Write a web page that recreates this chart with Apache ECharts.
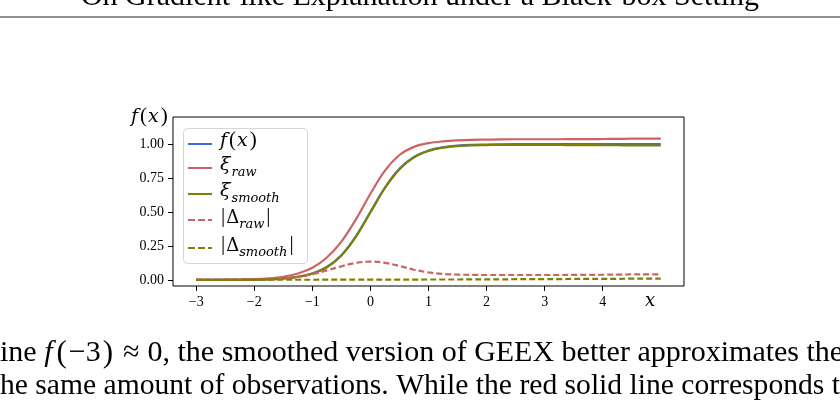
<!DOCTYPE html>
<html>
<head>
<meta charset="utf-8">
<script src="https://cdn.jsdelivr.net/npm/echarts@6/dist/echarts.min.js"></script>
<style>
html, body { margin: 0; padding: 0; background: #fff; }
#main { width: 840px; height: 401px; }
</style>
</head>
<body>
<div id="main"></div>
<script>
'use strict';

// x sample points
var xs = [-3, -2.75, -2.5, -2.25, -2, -1.75, -1.5, -1.25, -1, -0.75, -0.5, -0.25, 0,
  0.25, 0.5, 0.75, 1, 1.25, 1.5, 1.75, 2, 2.25, 2.5, 2.75, 3, 3.25, 3.5, 3.75, 4,
  4.25, 4.5, 4.75, 5];

var fx = [0.000, 0.000, 0.001, 0.001, 0.002, 0.005, 0.011, 0.023, 0.047, 0.095, 0.182, 0.321, 0.500,
  0.679, 0.818, 0.905, 0.953, 0.977, 0.989, 0.995, 0.997, 0.999, 1.000, 1.000, 1.000, 1.000, 1.000, 1.000, 1.000,
  1.000, 1.000, 1.000, 1.000];

var xiRaw = [0.000, 0.000, 0.002, 0.003, 0.005, 0.011, 0.023, 0.047, 0.089, 0.165, 0.282, 0.446, 0.635,
  0.805, 0.920, 0.980, 1.008, 1.021, 1.028, 1.032, 1.033, 1.035, 1.036, 1.036, 1.036, 1.036, 1.037, 1.037, 1.038,
  1.039, 1.040, 1.041, 1.041];

var xiSmooth = [0.000, 0.000, 0.000, 0.000, 0.001, 0.004, 0.010, 0.022, 0.046, 0.093, 0.180, 0.319, 0.498,
  0.677, 0.816, 0.903, 0.950, 0.974, 0.986, 0.991, 0.993, 0.995, 0.995, 0.995, 0.994, 0.994, 0.993, 0.993, 0.992,
  0.992, 0.991, 0.991, 0.990];

var dRaw = [0.000, 0.000, 0.001, 0.002, 0.003, 0.006, 0.012, 0.024, 0.042, 0.070, 0.100, 0.125, 0.135,
  0.126, 0.102, 0.075, 0.055, 0.044, 0.039, 0.037, 0.036, 0.036, 0.036, 0.036, 0.036, 0.036, 0.037, 0.037, 0.038,
  0.039, 0.040, 0.041, 0.041];

var dSmooth = [0.001, 0.001, 0.001, 0.001, 0.001, 0.001, 0.001, 0.001, 0.001, 0.002, 0.002, 0.002, 0.002,
  0.002, 0.002, 0.002, 0.003, 0.003, 0.003, 0.004, 0.004, 0.004, 0.005, 0.005, 0.006, 0.006, 0.007, 0.007, 0.008,
  0.008, 0.009, 0.009, 0.010];

var xTicks = [-3, -2, -1, 0, 1, 2, 3, 4];
var yTicks = [0, 0.25, 0.5, 0.75, 1];

var BLUE = '#4169e1', RED = '#cd6363', OLIVE = '#808000';
var SERIF = 'Liberation Serif';
var MATH = 'DejaVu Serif';

var SOLID_ICON = 'path://M0,0h24v2h-24z';
var DASH_ICON = 'path://M0,0h7v2h-7zM10,0h7v2h-7zM20,0h4v2h-4z';

function pairs(ys) {
  return xs.map(function (x, i) { return [x, ys[i]]; });
}

function fmtTick(v) {
  return v < 0 ? '\u2212' + Math.abs(v) : String(v);
}

var mathRich = {
  i: { fontFamily: MATH, fontStyle: 'italic', fontSize: 19, lineHeight: 22, color: '#000', verticalAlign: 'bottom', padding: [0, 1, 4, 0] },
  n: { fontFamily: SERIF, fontSize: 21, lineHeight: 22, color: '#000', verticalAlign: 'bottom', padding: [0, 1, 4, 1] },
  d: { fontFamily: MATH, fontSize: 18, lineHeight: 22, color: '#000', verticalAlign: 'bottom', padding: [0, 0, 4, 0] },
  s: { fontFamily: MATH, fontStyle: 'italic', fontSize: 13, lineHeight: 15, color: '#000', verticalAlign: 'bottom', padding: [0, 1, 0, 0] }
};

var legendLabels = {
  'f': '{i|f}{n|(}{i|x}{n|)}',
  'xiRaw': '{i|\u03be}{s|raw}',
  'xiSmooth': '{i|\u03be}{s|smooth}',
  'dRaw': '{n||}{d|\u0394}{s|raw}{n||}',
  'dSmooth': '{n||}{d|\u0394}{s|smooth}{n||}'
};
var legendCenters = [143, 169, 195, 219, 247];

var seriesDefs = [
  { name: 'f', data: fx, color: BLUE, type: 'solid', icon: SOLID_ICON },
  { name: 'xiRaw', data: xiRaw, color: RED, type: 'solid', icon: SOLID_ICON },
  { name: 'xiSmooth', data: xiSmooth, color: OLIVE, type: 'solid', icon: SOLID_ICON },
  { name: 'dRaw', data: dRaw, color: RED, type: [6, 3], icon: DASH_ICON },
  { name: 'dSmooth', data: dSmooth, color: OLIVE, type: [6, 3], icon: DASH_ICON }
];

var series = seriesDefs.map(function (d) {
  return {
    name: d.name,
    type: 'line',
    data: pairs(d.data),
    smooth: 0.35,
    showSymbol: false,
    symbol: 'none',
    color: d.color,
    lineStyle: { color: d.color, width: 2.2, type: d.type },
    emphasis: { disabled: true },
    animation: false
  };
});

var legends = seriesDefs.map(function (d, k) {
  return {
    data: [{ name: d.name, icon: d.icon }],
    left: 188,
    top: legendCenters[k] - 13,
    padding: 0,
    itemWidth: 24,
    itemHeight: 2,
    z: 5,
    selectedMode: false,
    itemStyle: { color: d.color, borderWidth: 0 },
    formatter: function (name) { return legendLabels[name]; },
    textStyle: { rich: mathRich, padding: [0, 0, 0, 3] }
  };
});

var bodyRich = {
  r: { fontFamily: SERIF, fontSize: 30, fill: '#000' },
  it: { fontFamily: SERIF, fontStyle: 'italic', fontSize: 30, fill: '#000', padding: [0, 2, 0, 0] },
  p: { fontFamily: SERIF, fontSize: 31, fill: '#000', padding: [0, 2, 0, 2] },
  op: { fontFamily: SERIF, fontSize: 30, fill: '#000', padding: [0, 8, 0, 8] }
};

var chart = echarts.init(document.getElementById('main'));
chart.setOption({
  backgroundColor: '#fff',
  animation: false,
  grid: {
    left: 173, right: 156, top: 117, bottom: 115,
    show: true, borderColor: '#000', borderWidth: 1, backgroundColor: 'transparent'
  },
  legend: legends,
  xAxis: {
    type: 'value', min: -3.4, max: 5.4,
    axisLine: { show: false, onZero: false },
    splitLine: { show: false },
    axisTick: { show: true, inside: false, length: 5, lineStyle: { color: '#000' }, customValues: xTicks },
    axisLabel: { fontFamily: SERIF, fontSize: 14, color: '#000', margin: 9, customValues: xTicks, formatter: fmtTick }
  },
  yAxis: {
    type: 'value', min: -0.045, max: 1.2,
    axisLine: { show: false, onZero: false },
    splitLine: { show: false },
    axisTick: { show: true, inside: false, length: 5, lineStyle: { color: '#000' }, customValues: yTicks },
    axisLabel: { fontFamily: SERIF, fontSize: 14, color: '#000', margin: 9, customValues: yTicks,
      formatter: function (v) { return v.toFixed(2); } }
  },
  graphic: [
    // page header + rule
    { type: 'text', left: 'center', top: -18, silent: true,
      style: { text: 'On Gradient-like Explanation under a Black-box Setting', fontFamily: SERIF, fontSize: 30, fill: '#000' } },
    { type: 'line', silent: true, shape: { x1: 0, y1: 17, x2: 840, y2: 17 }, style: { stroke: '#222', lineWidth: 1 } },
    // legend frame
    { type: 'rect', silent: true, z: 1, shape: { x: 183.5, y: 128.5, width: 124, height: 135, r: 4 },
      style: { fill: 'rgba(255,255,255,0.8)', stroke: '#d6d6d6', lineWidth: 1 } },
    // axis names
    { type: 'text', x: 131, y: 109, silent: true,
      style: { text: '{i|f}{n|(}{i|x}{n|)}', rich: mathRich } },
    { type: 'text', x: 645, y: 292, silent: true,
      style: { text: 'x', fontFamily: MATH, fontStyle: 'italic', fontSize: 18, fill: '#000' } },
    // body text below the figure
    { type: 'text', x: 0, y: 338, silent: true,
      style: { text: '{r|ine }{it|f}{p|(}{r|\u22123}{p|)}{op|\u2248}{r|0, the smoothed version of GEEX better approximates the}',
        rich: bodyRich } },
    { type: 'text', x: 0, y: 371, silent: true,
      style: { text: 'he same amount of observations. While the red solid line corresponds to',
        fontFamily: SERIF, fontSize: 29.6, fill: '#000' } }
  ],
  series: series
});
</script>
</body>
</html>
